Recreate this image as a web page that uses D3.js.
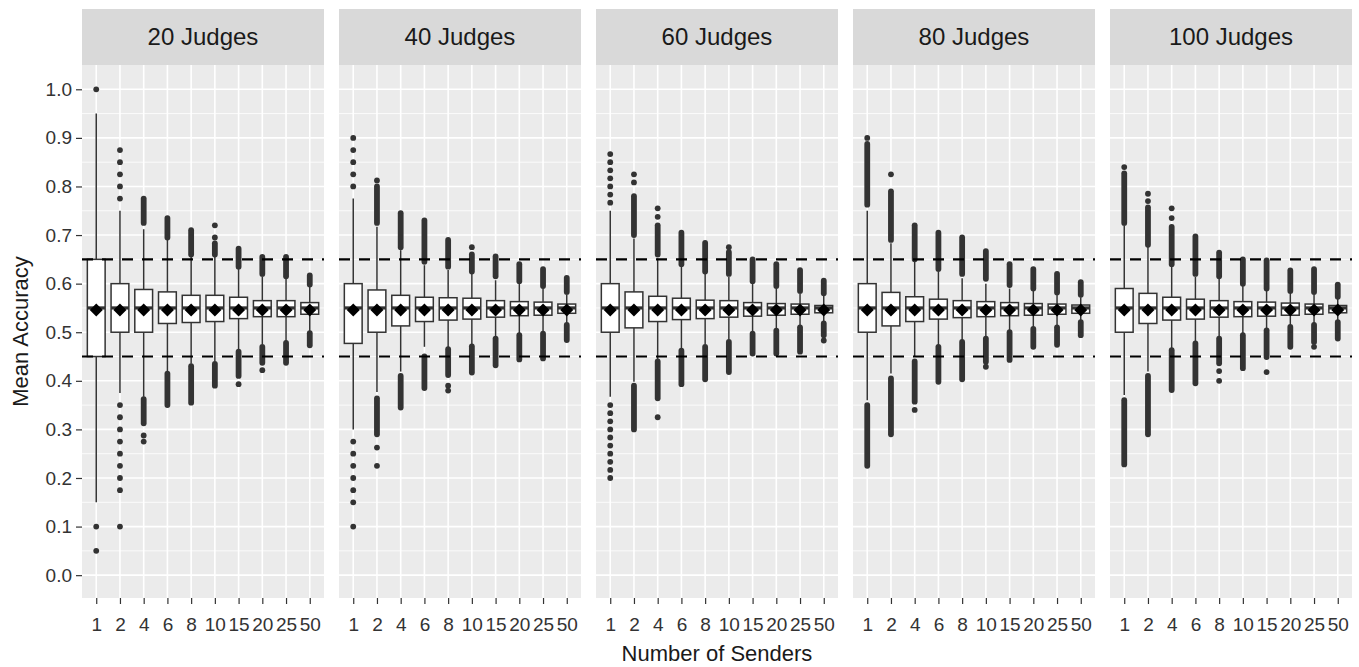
<!DOCTYPE html>
<html>
<head>
<meta charset="utf-8">
<script src="https://cdn.jsdelivr.net/npm/d3@7"></script>
<style>
  body { margin: 0; background: #fff; }
  text { font-family: "Liberation Sans", Arial, sans-serif; }
</style>
</head>
<body>
<div id="chart"></div>
<script>
var svgWidth = 1359;
var svgHeight = 667;

var margin = { top: 65, right: 7, bottom: 69, left: 82 };
var stripTop = 9;
var fontName = "Liberation Sans, Arial, sans-serif";

// facets and categories
var judges = ["20 Judges", "40 Judges", "60 Judges", "80 Judges", "100 Judges"];
var senders = ["1", "2", "4", "6", "8", "10", "15", "20", "25", "50"];
var yTicks = [0.0, 0.1, 0.2, 0.3, 0.4, 0.5, 0.6, 0.7, 0.8, 0.9, 1.0];
var guideLines = [0.45, 0.65];

// box statistics, one row per facet, one value per number of senders
var boxQ3 = [
  [0.65, 0.60, 0.588, 0.583, 0.576, 0.576, 0.572, 0.565, 0.565, 0.561],
  [0.60, 0.587, 0.576, 0.572, 0.571, 0.57, 0.565, 0.563, 0.562, 0.558],
  [0.60, 0.583, 0.574, 0.57, 0.566, 0.565, 0.561, 0.559, 0.558, 0.555],
  [0.60, 0.582, 0.573, 0.568, 0.565, 0.563, 0.561, 0.559, 0.558, 0.556],
  [0.59, 0.58, 0.572, 0.568, 0.565, 0.563, 0.562, 0.56, 0.558, 0.555]
];
var boxQ1 = [
  [0.45, 0.50, 0.50, 0.518, 0.52, 0.522, 0.528, 0.532, 0.532, 0.537],
  [0.477, 0.50, 0.513, 0.522, 0.525, 0.527, 0.531, 0.534, 0.535, 0.539],
  [0.50, 0.509, 0.522, 0.526, 0.528, 0.531, 0.533, 0.535, 0.537, 0.54],
  [0.50, 0.513, 0.522, 0.527, 0.53, 0.532, 0.534, 0.535, 0.537, 0.539],
  [0.50, 0.518, 0.525, 0.527, 0.531, 0.532, 0.533, 0.535, 0.537, 0.54]
];
var boxMedian = [
  [0.55, 0.55, 0.55, 0.55, 0.55, 0.55, 0.55, 0.55, 0.55, 0.55],
  [0.55, 0.55, 0.55, 0.55, 0.55, 0.55, 0.55, 0.55, 0.55, 0.55],
  [0.55, 0.55, 0.55, 0.55, 0.55, 0.55, 0.55, 0.55, 0.55, 0.55],
  [0.55, 0.55, 0.55, 0.55, 0.55, 0.55, 0.55, 0.55, 0.55, 0.55],
  [0.55, 0.55, 0.55, 0.55, 0.55, 0.55, 0.55, 0.55, 0.55, 0.55]
];
var boxMean = [
  [0.546, 0.546, 0.546, 0.546, 0.546, 0.546, 0.546, 0.546, 0.546, 0.546],
  [0.546, 0.546, 0.546, 0.546, 0.546, 0.546, 0.546, 0.546, 0.546, 0.546],
  [0.546, 0.546, 0.546, 0.546, 0.546, 0.546, 0.546, 0.546, 0.546, 0.546],
  [0.546, 0.546, 0.546, 0.546, 0.546, 0.546, 0.546, 0.546, 0.546, 0.546],
  [0.546, 0.546, 0.546, 0.546, 0.546, 0.546, 0.546, 0.546, 0.546, 0.546]
];
var whiskerHi = [
  [0.95, 0.75, 0.712, 0.69, 0.655, 0.655, 0.63, 0.615, 0.61, 0.595],
  [0.775, 0.717, 0.669, 0.638, 0.628, 0.62, 0.607, 0.60, 0.59, 0.578],
  [0.75, 0.693, 0.652, 0.635, 0.621, 0.614, 0.60, 0.59, 0.58, 0.575],
  [0.75, 0.683, 0.645, 0.624, 0.611, 0.60, 0.59, 0.585, 0.578, 0.572],
  [0.72, 0.676, 0.635, 0.614, 0.611, 0.598, 0.588, 0.583, 0.58, 0.572]
];
var whiskerLo = [
  [0.15, 0.375, 0.367, 0.42, 0.435, 0.44, 0.465, 0.475, 0.48, 0.50],
  [0.30, 0.377, 0.419, 0.47, 0.468, 0.475, 0.49, 0.497, 0.50, 0.518],
  [0.367, 0.398, 0.443, 0.465, 0.475, 0.485, 0.50, 0.505, 0.512, 0.52],
  [0.36, 0.415, 0.449, 0.472, 0.482, 0.49, 0.503, 0.51, 0.513, 0.524],
  [0.371, 0.419, 0.465, 0.479, 0.49, 0.496, 0.506, 0.513, 0.517, 0.523]
];

// outliers: crowded runs of points given as [from, to], separate points as lists
var denseHigh = [
  [null, null, [0.725, 0.775], [0.695, 0.735], [0.66, 0.71], [0.66, 0.683], [0.635, 0.672], [0.62, 0.655], [0.615, 0.655], [0.598, 0.617]],
  [null, [0.725, 0.80], [0.675, 0.745], [0.645, 0.73], [0.635, 0.69], [0.625, 0.66], [0.615, 0.656], [0.605, 0.64], [0.595, 0.63], [0.583, 0.612]],
  [null, [0.70, 0.78], [0.66, 0.72], [0.64, 0.705], [0.625, 0.684], [0.62, 0.665], [0.605, 0.65], [0.595, 0.64], [0.585, 0.628], [0.58, 0.606]],
  [[0.7625, 0.8875], [0.69, 0.79], [0.65, 0.72], [0.63, 0.705], [0.62, 0.695], [0.61, 0.667], [0.597, 0.64], [0.59, 0.63], [0.582, 0.62], [0.577, 0.603]],
  [[0.725, 0.827], [0.68, 0.757], [0.64, 0.717], [0.62, 0.697], [0.615, 0.664], [0.60, 0.65], [0.59, 0.648], [0.585, 0.627], [0.583, 0.63], [0.573, 0.598]]
];
var denseLow = [
  [null, null, [0.3125, 0.3625], [0.35, 0.415], [0.355, 0.43], [0.39, 0.435], [0.41, 0.46], [0.437, 0.47], [0.437, 0.478], [0.473, 0.498]],
  [null, [0.29, 0.364], [0.345, 0.41], [0.385, 0.45], [0.412, 0.465], [0.417, 0.471], [0.432, 0.487], [0.444, 0.494], [0.446, 0.497], [0.484, 0.515]],
  [null, [0.30, 0.39], [0.364, 0.44], [0.393, 0.462], [0.403, 0.47], [0.418, 0.48], [0.456, 0.497], [0.456, 0.503], [0.46, 0.51], [0.494, 0.518]],
  [[0.225, 0.35], [0.29, 0.405], [0.357, 0.44], [0.398, 0.47], [0.403, 0.48], [0.439, 0.487], [0.443, 0.50], [0.47, 0.507], [0.474, 0.51], [0.494, 0.521]],
  [[0.228, 0.36], [0.29, 0.41], [0.381, 0.463], [0.395, 0.477], [0.436, 0.487], [0.426, 0.494], [0.449, 0.504], [0.47, 0.511], [0.48, 0.515], [0.487, 0.521]]
];
var pointsOut = [
  [[1.0, 0.1, 0.05], [0.775, 0.8, 0.825, 0.85, 0.875, 0.35, 0.325, 0.3, 0.275, 0.25, 0.225, 0.2, 0.175, 0.1], [0.2875, 0.275], [], [], [0.695, 0.72], [0.393], [0.422], [], []],
  [[0.8, 0.825, 0.85, 0.875, 0.9, 0.275, 0.25, 0.225, 0.2, 0.175, 0.15, 0.1], [0.8125, 0.2625, 0.225], [], [], [0.39, 0.38], [0.675], [], [], [], []],
  [[0.7667, 0.7833, 0.8, 0.8167, 0.8333, 0.85, 0.8667, 0.35, 0.3333, 0.3167, 0.3, 0.2833, 0.2667, 0.25, 0.2333, 0.2167, 0.2], [0.8083, 0.825], [0.7375, 0.755, 0.325], [], [], [0.675], [], [], [], [0.483]],
  [[0.9], [0.825], [0.34], [], [], [0.429], [], [], [], []],
  [[0.84], [0.77, 0.785], [0.735, 0.755], [], [0.42, 0.40], [], [0.418], [], [0.47], []]
];

var width = svgWidth - margin.left - margin.right;
var height = svgHeight - margin.top - margin.bottom;

var svg = d3.select("#chart")
  .append("svg")
  .attr("width", svgWidth)
  .attr("height", svgHeight);

// facet placement
var facetScale = d3.scaleBand()
  .domain(judges)
  .range([margin.left, margin.left + width])
  .paddingInner(15 / 257)
  .paddingOuter(0);

var panelW = facetScale.bandwidth();

var yScale = d3.scaleLinear()
  .domain([-0.047, 1.05])
  .range([margin.top + height, margin.top]);

var xScale = d3.scalePoint()
  .domain(senders)
  .range([0, panelW])
  .padding(0.6);

var boxW = xScale.step() * 0.75;
var ptR = 2.9;
var dark = "#333333";

var yMinor = d3.range(0.05, 1.0, 0.1);

judges.forEach(function(judge, p) {
  var g = svg.append("g")
    .attr("transform", `translate(${facetScale(judge)}, 0)`);

  // strip
  g.append("rect")
    .attr("x", 0).attr("y", stripTop)
    .attr("width", panelW).attr("height", margin.top - stripTop)
    .attr("fill", "#d9d9d9");
  g.append("text")
    .attr("x", panelW / 2).attr("y", 45)
    .attr("text-anchor", "middle")
    .attr("font-size", "24px")
    .attr("fill", "#1a1a1a")
    .text(judge);

  // panel background
  g.append("rect")
    .attr("x", 0).attr("y", margin.top)
    .attr("width", panelW).attr("height", height)
    .attr("fill", "#ebebeb");

  // grid lines
  g.selectAll(".minor")
    .data(yMinor)
    .enter().append("line")
    .attr("x1", 0).attr("x2", panelW)
    .attr("y1", d => yScale(d)).attr("y2", d => yScale(d))
    .attr("stroke", "#fff").attr("stroke-width", 0.8);
  g.selectAll(".majorY")
    .data(yTicks)
    .enter().append("line")
    .attr("x1", 0).attr("x2", panelW)
    .attr("y1", d => yScale(d)).attr("y2", d => yScale(d))
    .attr("stroke", "#fff").attr("stroke-width", 1.6);
  g.selectAll(".majorX")
    .data(senders)
    .enter().append("line")
    .attr("x1", d => xScale(d)).attr("x2", d => xScale(d))
    .attr("y1", margin.top).attr("y2", margin.top + height)
    .attr("stroke", "#fff").attr("stroke-width", 1.6);

  var rows = senders.map(function(s, i) {
    return {
      sender: s,
      q1: boxQ1[p][i], q3: boxQ3[p][i], med: boxMedian[p][i], mean: boxMean[p][i],
      lo: whiskerLo[p][i], hi: whiskerHi[p][i],
      dHi: denseHigh[p][i], dLo: denseLow[p][i], pts: pointsOut[p][i]
    };
  });

  var boxes = g.selectAll(".box")
    .data(rows)
    .enter().append("g")
    .attr("transform", d => `translate(${xScale(d.sender)}, 0)`);

  // whiskers
  boxes.append("line")
    .attr("x1", 0).attr("x2", 0)
    .attr("y1", d => yScale(d.hi)).attr("y2", d => yScale(d.lo))
    .attr("stroke", dark).attr("stroke-width", 1.5);

  // crowded outliers
  boxes.selectAll(".dense")
    .data(d => [d.dHi, d.dLo].filter(r => r))
    .enter().append("line")
    .attr("x1", 0).attr("x2", 0)
    .attr("y1", r => yScale(r[1])).attr("y2", r => yScale(r[0]))
    .attr("stroke", dark).attr("stroke-width", ptR * 2)
    .attr("stroke-linecap", "round");

  // single outliers
  boxes.selectAll(".pt")
    .data(d => d.pts)
    .enter().append("circle")
    .attr("cx", 0).attr("cy", v => yScale(v))
    .attr("r", ptR)
    .attr("fill", dark);

  // box
  boxes.append("rect")
    .attr("x", -boxW / 2).attr("width", boxW)
    .attr("y", d => yScale(d.q3))
    .attr("height", d => yScale(d.q1) - yScale(d.q3))
    .attr("fill", "#fff").attr("stroke", dark).attr("stroke-width", 1.5);

  // median
  boxes.append("line")
    .attr("x1", -boxW / 2).attr("x2", boxW / 2)
    .attr("y1", d => yScale(d.med)).attr("y2", d => yScale(d.med))
    .attr("stroke", dark).attr("stroke-width", 3.2);

  // mean diamond
  boxes.append("path")
    .attr("d", "M0,-6.5L6.5,0L0,6.5L-6.5,0Z")
    .attr("transform", d => `translate(0, ${yScale(d.mean)})`)
    .attr("fill", "#000");

  // reference lines
  g.selectAll(".guide")
    .data(guideLines)
    .enter().append("line")
    .attr("x1", 0).attr("x2", panelW)
    .attr("y1", d => yScale(d)).attr("y2", d => yScale(d))
    .attr("stroke", "#000").attr("stroke-width", 2.2)
    .attr("stroke-dasharray", "11,9");

  // x axis
  var xAxis = d3.axisBottom(xScale).tickSize(6).tickPadding(14);
  var xg = g.append("g")
    .attr("transform", `translate(0, ${margin.top + height})`)
    .call(xAxis);
  xg.select(".domain").remove();
  xg.selectAll("line").attr("stroke", dark).attr("stroke-width", 1.2);
  xg.selectAll("text")
    .attr("font-size", "19px")
    .attr("font-family", fontName)
    .attr("fill", dark);

  if (p === 0) {
    var yAxis = d3.axisLeft(yScale).tickValues(yTicks).tickFormat(d3.format(".1f")).tickSize(6).tickPadding(4);
    var yg = g.append("g").call(yAxis);
    yg.select(".domain").remove();
    yg.selectAll("line").attr("stroke", dark).attr("stroke-width", 1.2);
    yg.selectAll("text")
      .attr("font-size", "19px")
      .attr("font-family", fontName)
      .attr("fill", dark);
  }
});

// axis titles
svg.append("text")
  .attr("x", margin.left + width / 2)
  .attr("y", 661)
  .attr("text-anchor", "middle")
  .attr("font-size", "22px")
  .attr("fill", "#1a1a1a")
  .text("Number of Senders");

svg.append("text")
  .attr("transform", "rotate(-90)")
  .attr("x", -(margin.top + height / 2))
  .attr("y", 28)
  .attr("text-anchor", "middle")
  .attr("font-size", "22px")
  .attr("fill", "#1a1a1a")
  .text("Mean Accuracy");
</script>
</body>
</html>
